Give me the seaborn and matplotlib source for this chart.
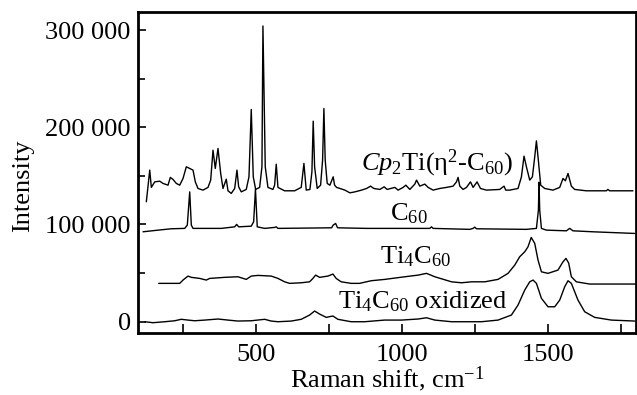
import numpy as np
import pandas as pd
import matplotlib
matplotlib.use("Agg")
import matplotlib.pyplot as plt
from matplotlib.ticker import FuncFormatter, MultipleLocator, FixedLocator
import seaborn as sns

# Cp2Ti(eta2-C60) spectrum (Raman shift, intensity in thousands)
cp2ti_shift = [124.5, 136.1, 141.6, 153.2, 170.3, 181.6, 198.7, 206.6, 215.8, 227.1,
               238.7, 250.0, 261.3, 272.9, 284.2, 292.1, 301.3, 318.4, 335.5, 344.7,
               352.6, 360.4, 369.7, 378.9, 386.8, 398.0, 403.9, 415.1, 426.8, 434.6,
               440.4, 449.3, 466.4, 475.7, 483.5, 490.4, 498.6, 512.2, 520.1, 523.5,
               531.4, 540.6, 557.7, 563.5, 569.0, 574.8, 597.7, 631.9, 654.5, 663.7,
               671.6, 684.2, 691.1, 695.5, 700.3, 709.2, 720.8, 727.6, 732.1, 736.5,
               743.4, 752.6, 763.9, 768.7, 775.5, 786.8, 803.9, 821.0, 838.1, 861.0,
               878.1, 891.7, 903.0, 923.5, 938.2, 948.5, 974.8, 986.1, 1003.2, 1012.4,
               1026.1, 1043.2, 1049.0, 1060.3, 1077.4, 1088.7, 1105.8, 1128.7, 1151.6, 1174.2,
               1185.8, 1191.3, 1197.1, 1208.4, 1220.0, 1233.7, 1242.6, 1256.2, 1267.8, 1288.3,
               1333.8, 1348.5, 1354.3, 1368.0, 1396.4, 1408.0, 1416.9, 1425.1, 1436.4, 1445.6,
               1453.5, 1459.3, 1464.8, 1474.0, 1487.7, 1516.1, 1539.0, 1550.3, 1558.4, 1567.4,
               1578.9, 1590.2, 1630.2, 1698.6, 1704.0, 1709.9, 1789.6]
cp2ti_int = [123.3, 155.9, 138.1, 143.8, 144.5, 142.2, 140.4, 148.4, 146.3, 142.2,
             140.4, 147.3, 159.3, 157.6, 155.9, 143.8, 137.0, 135.3, 138.1, 145.6,
             176.4, 157.6, 178.2, 152.5, 137.0, 146.6, 134.6, 131.9, 137.0, 155.9,
             138.7, 133.5, 136.0, 149.0, 218.3, 149.0, 136.0, 138.1, 159.3, 304.3,
             159.3, 138.1, 136.0, 140.4, 162.0, 138.1, 134.6, 134.6, 138.1, 162.8,
             135.3, 136.0, 154.1, 206.3, 159.3, 137.0, 140.4, 166.2, 219.3, 166.2,
             142.2, 140.4, 149.0, 140.4, 138.1, 137.0, 135.3, 132.5, 133.5, 135.3,
             137.0, 139.4, 137.0, 136.0, 138.7, 136.0, 138.1, 135.3, 138.1, 140.4,
             136.0, 141.5, 145.6, 139.4, 141.5, 138.1, 135.3, 137.0, 138.1, 139.4,
             143.8, 148.4, 139.4, 136.0, 138.1, 143.8, 138.1, 143.8, 137.0, 135.3,
             136.0, 139.4, 135.3, 135.3, 137.0, 149.0, 170.3, 159.3, 145.6, 149.0,
             169.5, 186.0, 169.5, 140.4, 137.0, 135.3, 138.1, 147.3, 144.9, 152.5,
             139.4, 136.0, 134.6, 134.6, 136.0, 134.6, 134.6]

# C60 spectrum
c60_shift = [113.2, 164.5, 210.0, 255.8, 264.7, 272.9, 278.4, 284.2, 380.9, 426.8,
             433.6, 440.4, 483.5, 491.7, 497.9, 504.0, 529.3, 563.5, 569.0, 574.8,
             758.4, 763.9, 772.1, 778.9, 878.1, 1094.5, 1100.3, 1105.8, 1231.3, 1242.6,
             1248.3, 1254.2, 1425.1, 1459.3, 1466.1, 1468.2, 1470.6, 1476.4, 1493.5, 1561.9,
             1573.2, 1584.4, 1652.8, 1795.4]
c60_int = [92.4, 94.1, 95.5, 95.9, 99.3, 133.5, 99.3, 95.9, 95.9, 97.5,
           100.0, 97.5, 98.2, 102.7, 136.3, 97.5, 95.9, 96.9, 97.5, 95.9,
           96.5, 99.3, 101.0, 96.5, 95.9, 95.9, 97.5, 95.9, 94.9, 95.9,
           97.2, 95.5, 94.9, 95.9, 114.7, 143.5, 114.7, 95.9, 94.1, 93.4,
           95.9, 93.4, 92.4, 90.7]

# Ti4C60 spectrum
ti4c60_shift = [166.9, 238.7, 250.0, 267.1, 278.4, 307.1, 329.7, 341.3, 392.6, 438.0,
                466.4, 483.5, 506.4, 551.9, 574.8, 597.7, 614.8, 654.5, 683.2, 694.5,
                703.7, 717.4, 745.8, 762.9, 774.1, 791.2, 825.4, 854.1, 893.8, 940.6,
                1009.0, 1054.5, 1083.2, 1111.6, 1168.7, 1202.9, 1237.1, 1282.6, 1328.0, 1362.2,
                1385.1, 1402.2, 1419.3, 1430.6, 1441.5, 1453.5, 1464.8, 1476.4, 1499.0, 1533.2,
                1550.3, 1560.5, 1569.7, 1578.9, 1596.0, 1641.5, 1798.8]
ti4c60_int = [39.3, 39.3, 42.7, 46.8, 45.5, 44.4, 42.7, 44.4, 45.5, 46.1,
              43.4, 46.8, 47.5, 46.8, 44.4, 40.9, 39.3, 39.9, 40.9, 44.4,
              47.8, 45.5, 46.8, 48.9, 44.4, 40.9, 39.3, 39.3, 42.0, 43.4,
              46.1, 47.8, 49.6, 46.1, 40.9, 39.9, 40.9, 40.9, 43.4, 49.6,
              58.1, 66.7, 71.8, 77.0, 86.6, 80.5, 63.3, 51.2, 49.6, 53.0,
              61.5, 65.0, 60.2, 46.1, 40.9, 38.6, 38.6]

# Ti4C60 oxidized spectrum
oxid_shift = [119.0, 147.4, 187.4, 221.6, 244.2, 267.1, 290.0, 324.2, 369.7, 403.9,
              438.0, 483.5, 529.3, 551.9, 574.8, 620.3, 654.5, 683.2, 700.3, 717.4,
              740.0, 762.9, 779.9, 825.4, 871.2, 939.6, 997.7, 1054.5, 1083.2, 1111.6,
              1168.7, 1225.5, 1271.3, 1328.0, 1373.8, 1396.4, 1419.3, 1436.4, 1447.7, 1459.3,
              1476.4, 1499.0, 1521.9, 1539.0, 1556.1, 1567.4, 1578.9, 1601.5, 1624.4, 1658.6,
              1715.7, 1795.4]
oxid_int = [-0.2, -1.2, -0.2, 0.8, 2.3, 1.5, 0.8, 1.5, 2.6, 1.5,
            0.5, 0.8, 2.3, 0.5, -0.2, 0.5, 2.3, 6.7, 10.8, 7.7,
            4.3, 5.7, 2.3, -0.2, -0.2, 1.5, 1.5, 2.6, 3.9, 1.5,
            -0.2, -0.2, -0.2, 1.5, 6.7, 17.0, 32.4, 40.9, 42.7, 39.3,
            23.9, 15.2, 15.2, 22.1, 35.8, 42.0, 39.3, 22.1, 10.1, 4.3,
            1.5, 0.5]

labels = [r"$\mathit{Cp}_2\mathrm{Ti(η}^2\text{-}\mathrm{C}_{60})$",
          r"$\mathrm{C}_{60}$",
          r"$\mathrm{Ti}_4\mathrm{C}_{60}$",
          r"$\mathrm{Ti}_4\mathrm{C}_{60}$ oxidized"]
label_x = [1120, 1023, 1045, 1069]
label_y = [156, 104.4, 59.9, 13.6]

sns.set_style("ticks")
plt.rcParams['font.family'] = ['Liberation Serif', 'DejaVu Serif']
plt.rcParams['mathtext.fontset'] = 'custom'
plt.rcParams['mathtext.rm'] = 'Liberation Serif'
plt.rcParams['mathtext.it'] = 'Liberation Serif:italic'
plt.rcParams['mathtext.bf'] = 'Liberation Serif:bold'
plt.rcParams['text.color'] = 'black'
plt.rcParams['axes.labelcolor'] = 'black'
plt.rcParams['xtick.color'] = 'black'
plt.rcParams['ytick.color'] = 'black'

fig = plt.figure(figsize=(6.37, 3.95), dpi=100)
ax = fig.add_axes([0.2162, 0.1577, 0.7822, 0.8127])

for xs, ys in [(cp2ti_shift, cp2ti_int), (c60_shift, c60_int),
               (ti4c60_shift, ti4c60_int), (oxid_shift, oxid_int)]:
    df = pd.DataFrame({'shift': xs, 'intensity': np.array(ys) * 1000})
    sns.lineplot(data=df, x='shift', y='intensity', color='black', lw=1.0,
                 sort=False, estimator=None, ax=ax)

for txt, tx, ty in zip(labels, label_x, label_y):
    ax.text(tx, ty * 1000, txt, ha='center', va='baseline', fontsize=19, color='black')

ax.set_xlim(95, 1800)
ax.set_ylim(-11500, 319000)

ax.xaxis.set_major_locator(FixedLocator([500, 1000, 1500]))
ax.xaxis.set_minor_locator(FixedLocator([250, 750, 1250, 1750]))
ax.yaxis.set_major_locator(MultipleLocator(100000))
ax.yaxis.set_minor_locator(FixedLocator([50000, 150000, 250000]))
ax.yaxis.set_major_formatter(FuncFormatter(lambda v, p: f"{int(v):,}".replace(",", " ")))

ax.tick_params(which='both', direction='in', width=1.2, colors='black',
               labelsize=19, top=False, right=False)
ax.tick_params(axis='x', which='both', length=6.5, pad=8)
ax.tick_params(axis='y', which='major', length=6, pad=5)
ax.tick_params(axis='y', which='minor', length=5)

for sp in ax.spines.values():
    sp.set_linewidth(2)
    sp.set_color('black')

ax.set_xlabel("Raman shift, cm$^{-1}$", fontsize=19)
ax.set_ylabel("Intensity", fontsize=19)
ax.xaxis.set_label_coords(0.5, -0.1)
ax.yaxis.set_label_coords(-0.208, 0.457)

fig.savefig("out.png", dpi=100)
